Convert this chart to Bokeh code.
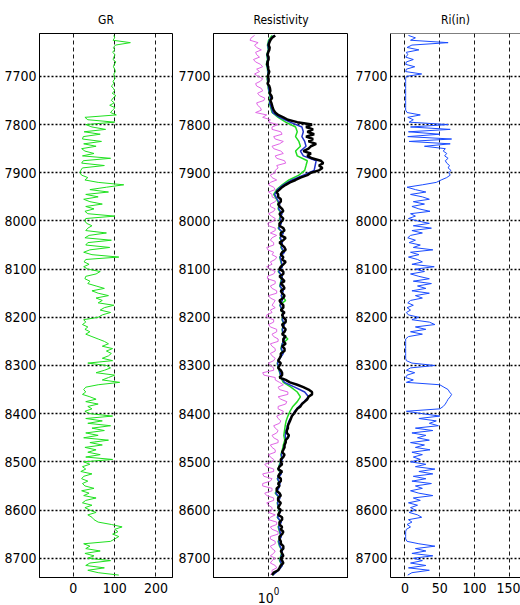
from bokeh.plotting import figure
from bokeh.layouts import row
from bokeh.models import Range1d, FixedTicker, Span
from bokeh.embed import file_html
from bokeh.resources import INLINE

# ---------------- data ----------------
# sampled every 5 ft from 7615 to 8735
depth5 = list(range(7615, 8736, 5))
# sampled every 10 ft from 7615 to 8735
depth10 = list(range(7615, 8736, 10))

gr = [98, 100, 96, 138, 102, 97, 100, 95, 101, 98, 96, 103, 99, 97, 100, 102, 98,
      99, 101, 96, 98, 92, 97, 100, 94, 103, 96, 92, 99, 88, 101, 95, 90, 104, 28, 35, 100,
      30, 45, 78, 26, 65, 24, 22, 68, 25, 55, 20, 28, 50, 22, 90, 24, 20, 75, 22, 18,
      16, 20, 35, 28, 60, 122, 80, 40, 85, 30, 60, 25, 40, 70, 30, 50, 28, 35, 100, 30,
      28, 32, 45, 35, 30, 80, 38, 28, 92, 35, 30, 88, 40, 25, 45, 110, 30, 26, 38, 25,
      35, 65, 55, 30, 28, 40, 35, 55, 75, 45, 60, 85, 55, 70, 60, 98, 75, 65, 90, 70,
      60, 25, 30, 22, 35, 28, 40, 30, 45, 60, 75, 85, 70, 95, 80, 92, 85, 70, 95, 35,
      80, 90, 75, 55, 100, 85, 70, 112, 60, 30, 25, 30, 22, 40, 55, 30, 60, 35, 45, 28,
      40, 95, 30, 70, 35, 90, 45, 75, 30, 60, 25, 85, 40, 70, 28, 55, 35, 65, 30, 95,
      25, 40, 22, 30, 18, 45, 25, 20, 35, 22, 28, 50, 20, 38, 25, 55, 30, 22, 45, 28,
      40, 55, 35, 45, 50, 60, 92, 118, 100, 108, 95, 110, 100, 90, 25, 40, 30, 65, 28, 50,
      35, 90, 40, 30, 75, 35, 60, 110]

ri = [5, 15, 8, 62, 10, 3, 20, 2, 4, 1, 12, 2, 1, 14, 2, 1, 24,
      2, 1, 1, 1, 1, 1, 1, 1, 1, 1, 1, 1, 1, 1, 1, 3, 22, 4, 12, 6,
      62, 8, 65, 5, 50, 4, 67, 6, 65, 28, 58, 55, 60, 57, 62, 58, 60, 64, 62, 66,
      63, 65, 60, 52, 45, 25, 3, 15, 30, 8, 25, 35, 12, 28, 10, 20, 36, 8, 15, 5,
      18, 35, 12, 38, 10, 25, 8, 4, 15, 6, 22, 12, 40, 8, 20, 5, 18, 25, 10, 42,
      15, 28, 8, 20, 35, 12, 38, 18, 30, 10, 35, 15, 25, 8, 4, 12, 3, 8, 2, 5,
      20, 10, 35, 43, 15, 30, 8, 25, 5, 1, 1, 1, 1, 1, 1, 1, 1, 1, 2, 10,
      43, 8, 2, 14, 3, 1, 12, 2, 50, 56, 62, 64, 67, 65, 62, 60, 58, 55, 50, 2,
      25, 50, 20, 45, 35, 48, 15, 40, 10, 30, 18, 35, 8, 28, 15, 36, 10, 25, 12, 22,
      8, 30, 15, 43, 20, 40, 12, 30, 10, 38, 15, 25, 8, 20, 40, 12, 22, 5, 18, 8,
      15, 6, 18, 24, 5, 10, 3, 8, 2, 1, 1, 1, 1, 3, 20, 43, 15, 30, 10, 40,
      12, 25, 8, 30, 5, 35, 10, 4]

# deep resistivity (black), every 5 ft
res_black = [1.2, 1.1, 1.05, 1.02, 1.0, 1.03, 1.02, 0.99, 0.97, 1.0, 1.0, 0.97, 0.96, 0.99, 0.99, 1.02, 1.0,
             0.98, 1.0, 1.0, 0.97, 1.02, 1.04, 1.05, 1.03, 1.08, 1.1, 1.05, 1.08, 1.1, 1.12, 1.15, 1.2, 1.3, 1.5, 1.7, 2.2,
             3.3, 2.8, 3.4, 2.9, 3.5, 2.8, 3.4, 3.0, 3.7, 3.2, 3.0, 2.6, 3.2, 2.9, 3.3, 4.2, 4.5, 4.0, 4.4, 4.0,
             3.2, 2.9, 2.4, 2.1, 1.8, 1.6, 1.45, 1.35, 1.25, 1.3, 1.3, 1.4, 1.4, 1.3, 1.35, 1.45, 1.5, 1.35, 1.4, 1.5,
             1.45, 1.35, 1.35, 1.5, 1.55, 1.4, 1.4, 1.6, 1.5, 1.35, 1.45, 1.55, 1.6, 1.45, 1.4, 1.5, 1.45, 1.6, 1.5, 1.4,
             1.35, 1.5, 1.5, 1.35, 1.45, 1.55, 1.4, 1.5, 1.55, 1.4, 1.45, 1.55, 1.5, 1.35, 1.4, 1.5, 1.5, 1.4, 1.55, 1.45,
             1.5, 1.6, 1.6, 1.45, 1.5, 1.6, 1.55, 1.45, 1.6, 1.5, 1.5, 1.6, 1.45, 1.55, 1.55, 1.4, 1.4, 1.35, 1.3, 1.4,
             1.35, 1.3, 1.4, 1.45, 1.45, 1.35, 1.6, 1.8, 2.2, 2.6, 3.0, 3.3, 3.3, 3.0, 2.9, 2.7, 2.5, 2.4, 2.2, 2.1,
             2.0, 1.9, 1.85, 1.8, 1.75, 1.7, 1.7, 1.65, 1.65, 1.75, 1.7, 1.6, 1.6, 1.55, 1.55, 1.5, 1.45, 1.55, 1.5, 1.4,
             1.4, 1.45, 1.35, 1.3, 1.45, 1.35, 1.3, 1.4, 1.4, 1.3, 1.35, 1.25, 1.25, 1.35, 1.4, 1.3, 1.3, 1.4, 1.35, 1.3,
             1.4, 1.35, 1.3, 1.45, 1.45, 1.35, 1.35, 1.45, 1.4, 1.5, 1.45, 1.35, 1.35, 1.4, 1.4, 1.5, 1.5, 1.4, 1.45, 1.5,
             1.4, 1.45, 1.5, 1.4, 1.35, 1.3, 1.15, 1.1]

# shallow resistivity (magenta), every 5 ft
res_magenta = [0.68, 0.62, 0.6, 0.75, 0.68, 0.72, 0.82, 0.7, 0.72, 0.78, 0.66, 0.7, 0.8, 0.85, 0.72, 0.78, 0.68,
               0.75, 0.85, 0.8, 0.7, 0.72, 0.82, 0.85, 0.74, 0.78, 0.9, 0.88, 0.72, 0.74, 0.8, 0.82, 0.7, 0.95, 0.85, 1.05, 1.0,
               1.3, 1.1, 1.1, 1.4, 1.45, 1.15, 1.2, 1.5, 1.35, 1.1, 1.15, 1.4, 1.5, 1.2, 1.25, 1.55, 1.6, 1.25, 1.3, 1.2,
               1.2, 1.05, 1.1, 1.25, 1.05, 1.0, 1.15, 1.2, 1.0, 1.1, 1.1, 1.25, 1.2, 1.05, 1.05, 1.2, 1.15, 1.0, 1.08, 1.2,
               1.15, 0.98, 1.0, 1.2, 1.2, 1.05, 1.25, 1.1, 1.05, 1.15, 1.15, 0.95, 0.98, 1.15, 1.1, 1.25, 1.2, 1.05, 1.1, 0.95,
               1.05, 1.2, 1.15, 0.97, 0.97, 1.2, 1.2, 1.05, 1.1, 1.25, 1.25, 1.0, 1.05, 1.2, 1.15, 1.1, 1.2, 1.05, 1.1, 0.95,
               0.95, 1.15, 1.15, 1.0, 1.05, 1.25, 1.25, 1.1, 1.15, 1.3, 1.3, 1.05, 1.1, 1.2, 1.2, 1.05, 1.1, 1.2, 1.15, 1.0,
               1.05, 1.15, 1.15, 0.85, 0.88, 1.2, 1.2, 1.35, 1.5, 1.3, 1.35, 1.7, 1.7, 1.3, 1.4, 1.65, 1.6, 1.3, 1.3, 1.5,
               1.45, 1.25, 1.3, 1.4, 1.35, 1.15, 1.2, 1.3, 1.25, 1.1, 1.15, 1.3, 1.3, 1.05, 1.1, 1.2, 1.2, 1.0, 1.05, 1.15,
               1.1, 0.9, 0.95, 1.15, 1.15, 0.85, 0.88, 1.1, 1.05, 0.85, 0.85, 1.1, 1.1, 0.9, 0.95, 1.15, 1.15, 0.95, 1.0, 1.1,
               1.1, 1.0, 1.2, 1.05, 1.0, 1.25, 1.25, 1.05, 1.1, 1.3, 1.3, 1.05, 1.05, 1.2, 1.2, 1.05, 1.1, 1.2, 1.15, 1.05,
               1.2, 1.1, 1.05, 1.2, 1.25, 1.1, 1.1, 1.05]

# medium resistivity curves (blue, green), every 10 ft
res_blue = [1.15, 1.02, 0.98, 1.0, 0.96, 0.98, 0.95, 0.98, 0.99,
            0.97, 0.99, 1.0, 1.03, 1.06, 1.03, 1.08, 1.12, 1.35, 1.8,
            2.5, 2.6, 2.5, 2.7, 2.8, 2.4, 2.6, 3.7, 3.6, 3.5,
            2.6, 1.9, 1.5, 1.28, 1.18, 1.27, 1.36, 1.32, 1.45, 1.37,
            1.42, 1.32, 1.5, 1.38, 1.46, 1.42, 1.55, 1.37, 1.42, 1.46,
            1.32, 1.46, 1.42, 1.37, 1.5, 1.42, 1.46, 1.37, 1.46, 1.5,
            1.46, 1.55, 1.46, 1.5, 1.55, 1.46, 1.42, 1.5, 1.37, 1.28,
            1.32, 1.37, 1.42, 1.55, 2.05, 2.7, 3.0, 2.65, 2.3, 2.05,
            1.9, 1.75, 1.68, 1.62, 1.58, 1.62, 1.55, 1.5, 1.42, 1.46,
            1.37, 1.32, 1.42, 1.28, 1.37, 1.32, 1.22, 1.37, 1.28, 1.32,
            1.37, 1.28, 1.42, 1.32, 1.37, 1.42, 1.32, 1.37, 1.46, 1.42,
            1.37, 1.46, 1.32, 1.12]

res_green = [1.1, 1.0, 0.97, 0.99, 0.95, 0.97, 0.94, 0.97, 0.98,
             0.96, 0.98, 0.99, 1.02, 1.04, 1.02, 1.06, 1.1, 1.3, 1.6,
             2.1, 2.2, 2.1, 2.3, 2.4, 2.1, 2.2, 2.9, 2.8, 2.7,
             2.3, 1.75, 1.45, 1.25, 1.15, 1.25, 1.33, 1.3, 1.42, 1.35,
             1.4, 1.3, 1.48, 1.36, 1.45, 1.4, 1.52, 1.36, 1.4, 1.45,
             1.3, 1.45, 1.4, 1.36, 1.48, 1.42, 1.6, 1.36, 1.45, 1.48,
             1.45, 1.52, 1.45, 1.48, 1.7, 1.45, 1.4, 1.48, 1.36, 1.27,
             1.3, 1.36, 1.4, 1.5, 1.85, 2.2, 2.4, 2.2, 1.95, 1.8,
             1.7, 1.62, 1.58, 1.55, 1.52, 1.56, 1.5, 1.46, 1.4, 1.44,
             1.35, 1.3, 1.4, 1.27, 1.35, 1.3, 1.2, 1.35, 1.27, 1.3,
             1.35, 1.27, 1.4, 1.3, 1.35, 1.4, 1.3, 1.35, 1.45, 1.4,
             1.35, 1.45, 1.3, 1.1]

depth_ticks = [7700, 7800, 7900, 8000, 8100, 8200, 8300, 8400, 8500, 8600, 8700]
gr_ticks = [0, 100, 200]
res_ticks = [1]
ri_ticks = [0, 50, 100, 150]
titles = ["GR", "Resistivity", "Ri(in)"]

DEPTH_TOP, DEPTH_BOT = 7611, 8740
FONT = "'DejaVu Sans Condensed', 'DejaVu Sans', sans-serif"


def make_panel(title, x_range, x_type, xticks, frame_w, left_b, right_b):
    p = figure(frame_width=frame_w, frame_height=544,
               x_range=x_range, y_range=Range1d(DEPTH_BOT, DEPTH_TOP),
               x_axis_type=x_type, output_backend="svg", toolbar_location=None,
               min_border_left=left_b, min_border_right=right_b,
               min_border_top=33, min_border_bottom=28, title=title)
    p.title.align = "center"
    p.title.text_font = FONT
    p.title.text_font_size = "12px"
    p.title.text_font_style = "normal"
    p.title.text_color = "black"
    p.title.standoff = 13
    p.outline_line_color = "black"
    p.outline_line_width = 1
    p.background_fill_color = "white"
    p.border_fill_color = "white"

    p.xaxis.ticker = FixedTicker(ticks=xticks)
    p.xgrid.ticker = FixedTicker(ticks=xticks)
    p.yaxis.ticker = FixedTicker(ticks=depth_ticks)
    p.ygrid.ticker = FixedTicker(ticks=depth_ticks)

    for ax in (p.xaxis[0], p.yaxis[0]):
        ax.major_tick_in = 0
        ax.major_tick_out = 0
        ax.minor_tick_in = 0
        ax.minor_tick_out = 0
        ax.axis_line_color = "black"
        ax.major_label_text_font = FONT
        ax.major_label_text_font_size = "14px"
        ax.major_label_text_color = "black"
    p.yaxis.major_label_standoff = 3
    p.xaxis.major_label_standoff = 5

    p.xgrid.grid_line_color = "black"
    p.xgrid.grid_line_dash = "4 3"
    p.xgrid.grid_line_width = 1
    p.xgrid.grid_line_alpha = 0.9
    p.ygrid.grid_line_color = "black"
    p.ygrid.grid_line_dash = "2 2"
    p.ygrid.grid_line_width = 1.5
    return p


p1 = make_panel(titles[0], Range1d(-82, 240), "linear", gr_ticks, 133, 39, 2)
p1.line(gr, depth5, line_color="#1fe01f", line_width=1)

p2 = make_panel(titles[1], Range1d(0.22, 9.0), "log", res_ticks, 135, 39, 0)
p2.xaxis.major_label_standoff = 9
p2.line(res_magenta, depth5, line_color="#e066e6", line_width=1)
p2.line(res_green, depth10, line_color="#22dd22", line_width=1.5)
p2.line(res_blue, depth10, line_color="#2233cc", line_width=1.5)
p2.line(res_black, depth5, line_color="black", line_width=2.5)

p3 = make_panel(titles[2], Range1d(-20.8, 166), "linear", ri_ticks, 130, 42, 0)
p3.outline_line_color = None
p3.add_layout(Span(location=DEPTH_TOP, dimension="width", line_color="black", line_width=1))
p3.line(ri, depth5, line_color="#1a4cff", line_width=1)

layout = row(p1, p2, p3)
open("out.html", "w").write(file_html(layout, INLINE))
